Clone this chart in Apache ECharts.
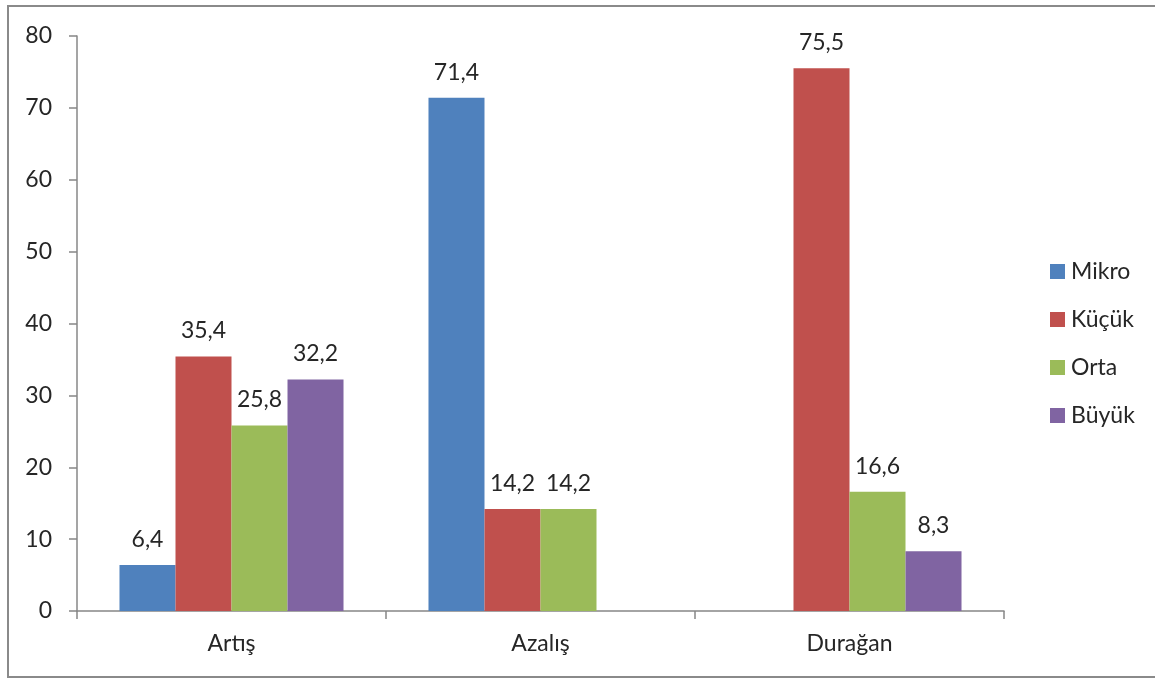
<!DOCTYPE html>
<html>
<head>
<meta charset="utf-8">
<script src="https://cdn.jsdelivr.net/npm/echarts@6/dist/echarts.min.js"></script>
<style>
html,body{margin:0;padding:0;background:#fff;}
#chart{width:1155px;height:680px;}
</style>
</head>
<body>
<div id="chart"></div>
<script>
const categories = ['Artış', 'Azalış', 'Durağan'];
const seriesNames = ['Mikro', 'Küçük', 'Orta', 'Büyük'];
const mikro = [6.4, 71.4, null];
const kucuk = [35.4, 14.2, 75.5];
const orta = [25.8, 14.2, 16.6];
const buyuk = [32.2, null, 8.3];
const yTicks = [0, 10, 20, 30, 40, 50, 60, 70, 80];
const colors = ['#4F81BD', '#C0504D', '#9BBB59', '#8064A2'];

const FONT = 'Lato';
const FS = 23;
const TXT = '#262626';
const AX = '#878787';

const allData = [mikro, kucuk, orta, buyuk];
const chart = echarts.init(document.getElementById('chart'));

chart.setOption({
  animation: false,
  textStyle: { fontFamily: FONT },
  graphic: [{
    type: 'rect',
    shape: { x: 8, y: 6, width: 1170, height: 671 },
    style: { fill: 'none', stroke: '#8a8a8a', lineWidth: 2 },
    silent: true,
    z: -1
  }],
  grid: { left: 77, right: 151, top: 36, bottom: 69, containLabel: false },
  legend: {
    orient: 'vertical',
    left: 1045,
    top: 255,
    itemWidth: 15,
    itemHeight: 15,
    itemGap: 25,
    icon: 'rect',
    textStyle: { fontFamily: FONT, fontSize: FS, color: TXT, padding: [0, 0, 0, 1] },
    data: seriesNames
  },
  xAxis: {
    type: 'category',
    data: categories,
    axisLine: { lineStyle: { color: AX, width: 1.5 } },
    axisTick: { show: true, length: 8, alignWithLabel: false, lineStyle: { color: AX, width: 1.5 } },
    axisLabel: { fontFamily: FONT, fontSize: FS, color: TXT, margin: 21 }
  },
  yAxis: {
    type: 'value',
    min: yTicks[0],
    max: yTicks[yTicks.length - 1],
    interval: 10,
    splitLine: { show: false },
    axisLine: { show: true, lineStyle: { color: AX, width: 1.5 } },
    axisTick: { show: true, length: 8, lineStyle: { color: AX, width: 1.5 } },
    axisLabel: { fontFamily: FONT, fontSize: FS, color: TXT, margin: 25 }
  },
  series: seriesNames.map((name, i) => ({
    name: name,
    type: 'bar',
    data: allData[i],
    barGap: '0%',
    barCategoryGap: '27.5%',
    itemStyle: { color: colors[i] },
    label: {
      show: true,
      position: 'top',
      distance: 14,
      fontFamily: FONT,
      fontSize: FS,
      color: TXT,
      formatter: p => (p.value == null ? '' : Number(p.value).toFixed(1).replace('.', ','))
    }
  }))
});
</script>
</body>
</html>
